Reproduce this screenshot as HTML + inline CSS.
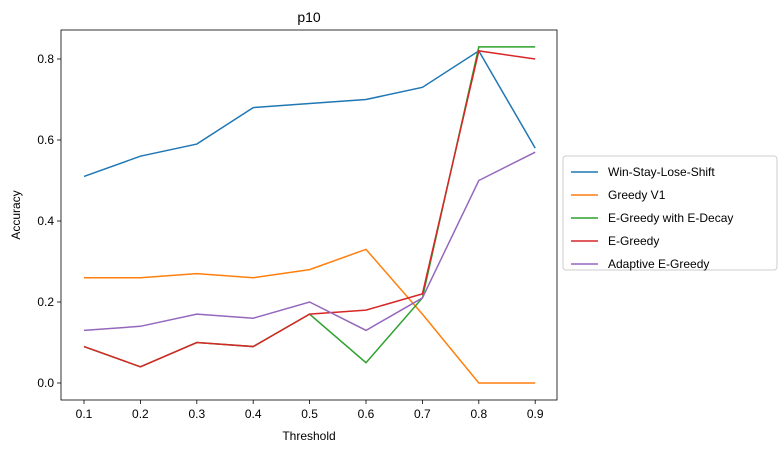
<!DOCTYPE html>
<html><head><meta charset="utf-8"><style>
body{margin:0;background:#fff;}
svg{font-family:"Liberation Sans","DejaVu Sans",sans-serif;}
</style></head><body>
<svg id="c" width="784" height="453"></svg>
<script>
const categories=[0.1,0.2,0.3,0.4,0.5,0.6,0.7,0.8,0.9];
const wsls=[0.51,0.56,0.59,0.68,0.69,0.70,0.73,0.82,0.58];
const greedyV1=[0.26,0.26,0.27,0.26,0.28,0.33,0.17,0.0,0.0];
const eGreedyDecay=[0.09,0.04,0.10,0.09,0.17,0.05,0.21,0.83,0.83];
const eGreedy=[0.09,0.04,0.10,0.09,0.17,0.18,0.22,0.82,0.80];
const adaptive=[0.13,0.14,0.17,0.16,0.20,0.13,0.21,0.50,0.57];
const xTicks=["0.1","0.2","0.3","0.4","0.5","0.6","0.7","0.8","0.9"];
const yTicks=["0.0","0.2","0.4","0.6","0.8"];
const seriesNames=["Win-Stay-Lose-Shift","Greedy V1","E-Greedy with E-Decay","E-Greedy","Adaptive E-Greedy"];
const series=[wsls,greedyV1,eGreedyDecay,eGreedy,adaptive];
const colors=["#1f77b4","#ff7f0e","#2ca02c","#d62728","#9467bd"];
const L=61,R=557,T=30,B=400;
const x=v=>84+(v-0.1)*564;
const y=v=>383-v*405;
const svg=document.getElementById('c');
const NS="http://www.w3.org/2000/svg";
function mk(t,a,p){const e=document.createElementNS(NS,t);for(const k in a)e.setAttribute(k,a[k]);(p||svg).appendChild(e);return e;}
let e;
e=mk('text',{x:309,y:22,'text-anchor':'middle','font-size':14,fill:'#000'});e.textContent='p10';


series.forEach((s,i)=>{
 const p=mk('polyline',{points:s.map((v,j)=>x(categories[j])+','+y(v)).join(' '),fill:'none',stroke:colors[i],'stroke-width':1.5});
 
 
});
e=mk('rect',{x:L,y:T,width:R-L,height:B-T,fill:'none',stroke:'#000','stroke-width':0.8});


xTicks.forEach((t,i)=>{
 const xx=x(categories[i]);
 mk('line',{x1:xx,x2:xx,y1:B,y2:B+4,stroke:'#000','stroke-width':0.8});
 const tx=mk('text',{x:xx,y:B+18,'text-anchor':'middle','font-size':12});tx.textContent=t;
 
 
});
yTicks.forEach(t=>{
 const yy=y(parseFloat(t));
 mk('line',{x1:L-4,x2:L,y1:yy,y2:yy,stroke:'#000','stroke-width':0.8});
 const tx=mk('text',{x:L-7,y:yy+4,'text-anchor':'end','font-size':12});tx.textContent=t;
 
 
});
e=mk('text',{x:309,y:440,'text-anchor':'middle','font-size':12});e.textContent='Threshold';


e=mk('text',{x:20,y:215,'text-anchor':'middle','font-size':12,transform:'rotate(-90 20 215)'});e.textContent='Accuracy';


const lg=mk('g',{});


mk('rect',{x:563,y:156,width:214,height:114,rx:3,fill:'#fff',stroke:'#ccc'},lg);
seriesNames.forEach((n,i)=>{
 const yy=172+i*23;
 mk('line',{x1:571,x2:598,y1:yy,y2:yy,stroke:colors[i],'stroke-width':1.5},lg);
 const tx=mk('text',{x:608,y:yy+4,'font-size':12},lg);tx.textContent=n;
 
 
});
</script>
</body></html>
